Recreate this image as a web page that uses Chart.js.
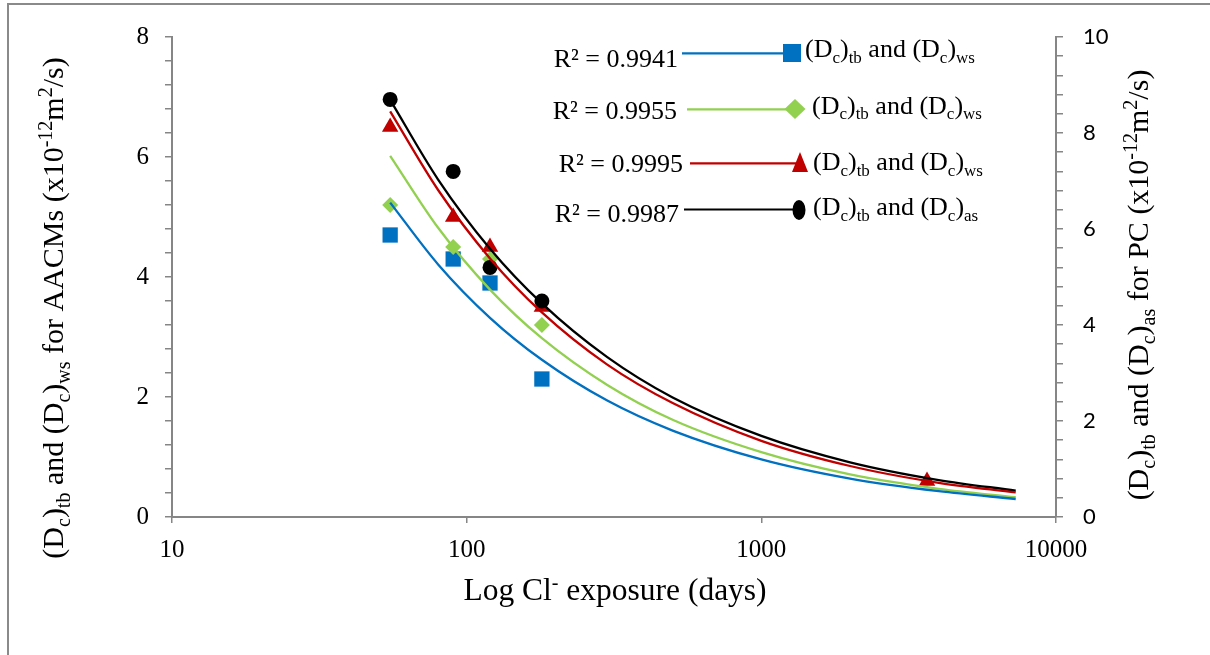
<!DOCTYPE html>
<html>
<head>
<meta charset="utf-8">
<script src="https://cdn.jsdelivr.net/npm/chart.js@4/dist/chart.umd.min.js"></script>
<style>
html,body{margin:0;padding:0;background:#fff;}
#wrap{position:relative;width:1210px;height:655px;}
canvas{display:block;}
</style>
</head>
<body>
<div id="wrap"><canvas id="c" width="1210" height="655"></canvas></div>
<script>
// ---- data ----
const xDays = [55, 90, 120, 180];
const blueVals = [4.7, 4.3, 3.9, 2.3];          // (Dc)tb and (Dc)ws, left axis
const greenVals = [5.2, 4.5, 4.3, 3.2];         // (Dc)tb and (Dc)ws, left axis
const redDays = [55, 90, 120, 180, 3650];
const redVals = [6.5, 5.0, 4.5, 3.5, 0.6];      // (Dc)tb and (Dc)ws, left axis
const blackVals = [8.7, 7.2, 5.2, 4.5];         // (Dc)tb and (Dc)as, right axis (PC)

// trendline readings along the fitted curves
const trendDays = [55, 80, 120, 180, 300, 500, 1000, 2000, 4000, 7300];
const blueTrend = [5.24, 4.21, 3.32, 2.62, 1.94, 1.44, 0.96, 0.64, 0.43, 0.30];
const greenTrend = [6.02, 4.82, 3.79, 2.98, 2.20, 1.62, 1.08, 0.71, 0.47, 0.33];
const redTrend = [6.76, 5.45, 4.31, 3.41, 2.54, 1.90, 1.27, 0.85, 0.57, 0.41];
const blackTrend = [8.69, 7.03, 5.59, 4.45, 3.33, 2.49, 1.69, 1.14, 0.77, 0.55];

const xTickValues = [10, 100, 1000, 10000];
const legendR2 = ['0.9941', '0.9955', '0.9995', '0.9987'];
const legendSecondSub = ['ws', 'ws', 'ws', 'as'];

// ---- styling ----
const COLORS = ['#0070C0', '#92D050', '#C00000', '#000000'];
const AXIS = '#868686';
const SERIF = '"Liberation Serif", "Times New Roman", serif';

function pts(xs, ys) { return xs.map((x, i) => ({x: x, y: ys[i]})); }

// rich text helpers (normal / sub / sup segments)
function segFont(seg, size) {
  const s = seg.t === 'n' ? size : Math.round(size * 0.65);
  return s + 'px ' + SERIF;
}
function richWidth(ctx, segs, size) {
  let w = 0;
  for (const sg of segs) { ctx.font = segFont(sg, size); w += ctx.measureText(sg.s).width; }
  return w;
}
function drawRich(ctx, segs, x, y, size, align) {
  let cx = align === 'center' ? x - richWidth(ctx, segs, size) / 2 : x;
  ctx.textBaseline = 'alphabetic';
  ctx.textAlign = 'left';
  for (const sg of segs) {
    ctx.font = segFont(sg, size);
    let dy = 0;
    if (sg.t === 'sub') dy = size * 0.22;
    if (sg.t === 'sup') dy = -size * 0.36;
    ctx.fillText(sg.s, cx, y + dy);
    cx += ctx.measureText(sg.s).width;
  }
}
const N = s => ({t: 'n', s: s});
const SUB = s => ({t: 'sub', s: s});
const SUP = s => ({t: 'sup', s: s});

const leftTitle = [N('(D'), SUB('c'), N(')'), SUB('tb'), N(' and (D'), SUB('c'), N(')'), SUB('ws'), N(' for AACMs (x10'), SUP('-12'), N('m'), SUP('2'), N('/s)')];
const rightTitle = [N('(D'), SUB('c'), N(')'), SUB('tb'), N(' and (D'), SUB('c'), N(')'), SUB('as'), N(' for PC (x10'), SUP('-12'), N('m'), SUP('2'), N('/s)')];
const xTitle = [N('Log Cl'), SUP('-'), N(' exposure (days)')];

function drawMarker(ctx, kind, x, y, w, h, color) {
  ctx.save();
  ctx.fillStyle = color;
  ctx.beginPath();
  if (kind === 'rect') ctx.rect(x - w / 2, y - h / 2, w, h);
  else if (kind === 'diamond') { ctx.moveTo(x, y - h / 2); ctx.lineTo(x + w / 2, y); ctx.lineTo(x, y + h / 2); ctx.lineTo(x - w / 2, y); ctx.closePath(); }
  else if (kind === 'triangle') { ctx.moveTo(x, y - h / 2); ctx.lineTo(x + w / 2, y + h / 2); ctx.lineTo(x - w / 2, y + h / 2); ctx.closePath(); }
  else ctx.ellipse(x, y, w / 2, h / 2, 0, 0, Math.PI * 2);
  ctx.fill();
  ctx.restore();
}

const decor = {
  id: 'decor',
  beforeDraw(chart) {
    const ctx = chart.ctx;
    ctx.save();
    ctx.fillStyle = '#fff';
    ctx.fillRect(0, 0, chart.width, chart.height);
    ctx.strokeStyle = '#8a8a8a';
    ctx.lineWidth = 2;
    ctx.strokeRect(8, 4, 1400, 900);
    ctx.restore();
  },
  afterDraw(chart) {
    const ctx = chart.ctx;
    ctx.save();
    ctx.fillStyle = '#000';
    // x title
    drawRich(ctx, xTitle, 615, 600, 31.5, 'center');
    // left title
    ctx.save(); ctx.translate(63, 308); ctx.rotate(-Math.PI / 2);
    drawRich(ctx, leftTitle, 0, 0, 30, 'center'); ctx.restore();
    // right title
    ctx.save(); ctx.translate(1148, 285); ctx.rotate(-Math.PI / 2);
    drawRich(ctx, rightTitle, 0, 0, 30, 'center'); ctx.restore();

    // legend inside plot
    const rows = [
      {txtR: 678, base: 66.5, lx0: 682, ly: 53.3, mx: 792, my: 53, kind: 'rect', mw: 18, mh: 18, labX: 805, labBase: 57},
      {txtR: 677, base: 119, lx0: 687, ly: 109.3, mx: 795, my: 109, kind: 'diamond', mw: 21, mh: 20, labX: 812, labBase: 113.5},
      {txtR: 683, base: 172, lx0: 690, ly: 163.3, mx: 800, my: 162, kind: 'triangle', mw: 16, mh: 20, labX: 813, labBase: 170},
      {txtR: 679, base: 221.5, lx0: 684, ly: 209.5, mx: 799, my: 210, kind: 'ellipse', mw: 13, mh: 20, labX: 813, labBase: 215}
    ];
    rows.forEach((r, i) => {
      ctx.font = '26px ' + SERIF;
      ctx.textAlign = 'right'; ctx.textBaseline = 'alphabetic';
      ctx.fillStyle = '#000';
      ctx.fillText('R\u00B2 = ' + legendR2[i], r.txtR, r.base);
      ctx.strokeStyle = COLORS[i]; ctx.lineWidth = 2.2;
      ctx.beginPath(); ctx.moveTo(r.lx0, r.ly); ctx.lineTo(r.mx, r.ly); ctx.stroke();
      drawMarker(ctx, r.kind, r.mx, r.my, r.mw, r.mh, COLORS[i]);
      ctx.fillStyle = '#000';
      const lab = [N('(D'), SUB('c'), N(')'), SUB('tb'), N(' and (D'), SUB('c'), N(')'), SUB(legendSecondSub[i])];
      drawRich(ctx, lab, r.labX, r.labBase, 26, 'left');
    });
    ctx.restore();
  }
};

function isMajor(v) { return Math.abs(v / 2 - Math.round(v / 2)) < 1e-6; }

const markerStyle = (i, style, r) => ({
  pointStyle: style, pointRadius: r, pointHoverRadius: r,
  backgroundColor: COLORS[i], borderColor: COLORS[i], borderWidth: 0,
  showLine: false
});
const trendStyle = i => ({
  type: 'line', showLine: true, pointRadius: 0, pointHoverRadius: 0,
  borderColor: COLORS[i], backgroundColor: COLORS[i], borderWidth: 2.3,
  cubicInterpolationMode: 'monotone', fill: false, order: -1
});

new Chart(document.getElementById('c'), {
  type: 'scatter',
  data: {
    datasets: [
      Object.assign({label: 'blue', data: pts(xDays, blueVals), yAxisID: 'y', order: 3}, markerStyle(0, 'rect', 10.8)),
      Object.assign({label: 'green', data: pts(xDays, greenVals), yAxisID: 'y', order: 2}, markerStyle(1, 'rectRot', 8)),
      Object.assign({label: 'red', data: pts(redDays, redVals), yAxisID: 'y', order: 1}, markerStyle(2, 'triangle', 9.5)),
      Object.assign({label: 'black', data: pts(xDays, blackVals), yAxisID: 'y1', order: 0}, markerStyle(3, 'circle', 7.5)),
      Object.assign({label: 'blueTrend', data: pts(trendDays, blueTrend), yAxisID: 'y'}, trendStyle(0)),
      Object.assign({label: 'greenTrend', data: pts(trendDays, greenTrend), yAxisID: 'y'}, trendStyle(1)),
      Object.assign({label: 'redTrend', data: pts(trendDays, redTrend), yAxisID: 'y'}, trendStyle(2)),
      Object.assign({label: 'blackTrend', data: pts(trendDays, blackTrend), yAxisID: 'y1'}, trendStyle(3))
    ]
  },
  options: {
    responsive: false,
    animation: false,
    layout: {padding: {top: 37, left: 0, right: 0, bottom: 0}},
    plugins: {legend: {display: false}, tooltip: {enabled: false}, title: {display: false}},
    scales: {
      x: {
        type: 'logarithmic', position: 'bottom', min: 10, max: 10000,
        afterBuildTicks: s => { s.ticks = xTickValues.map(v => ({value: v})); },
        afterFit: s => { s.height = 138; },
        grid: {drawOnChartArea: false, drawTicks: true, tickLength: 6, color: AXIS, lineWidth: 1.5},
        border: {display: true, color: AXIS, width: 2},
        ticks: {autoSkip: false, maxRotation: 0, padding: 12, color: '#000', font: {family: SERIF, size: 25},
          callback: v => String(v)}
      },
      y: {
        type: 'linear', position: 'left', min: 0, max: 8,
        afterFit: s => { s.width = 172; },
        grid: {drawOnChartArea: false, drawTicks: true, tickLength: 7, color: AXIS, lineWidth: 1.5},
        border: {display: true, color: AXIS, width: 2},
        ticks: {stepSize: 0.4, autoSkip: false, padding: 16, color: '#000', font: {family: SERIF, size: 25},
          callback: v => isMajor(v) ? String(Math.round(v)) : ''}
      },
      y1: {
        type: 'linear', position: 'right', min: 0, max: 10,
        afterFit: s => { s.width = 154; },
        grid: {drawOnChartArea: false, drawTicks: true, tickLength: 7, color: AXIS, lineWidth: 1.5},
        border: {display: true, color: AXIS, width: 2},
        ticks: {stepSize: 0.4, autoSkip: false, padding: 20, color: '#000', font: {family: 'Lato, "Open Sans", sans-serif', size: 22},
          callback: v => isMajor(v) ? String(Math.round(v)) : ''}
      }
    }
  },
  plugins: [decor]
});
</script>
</body>
</html>
